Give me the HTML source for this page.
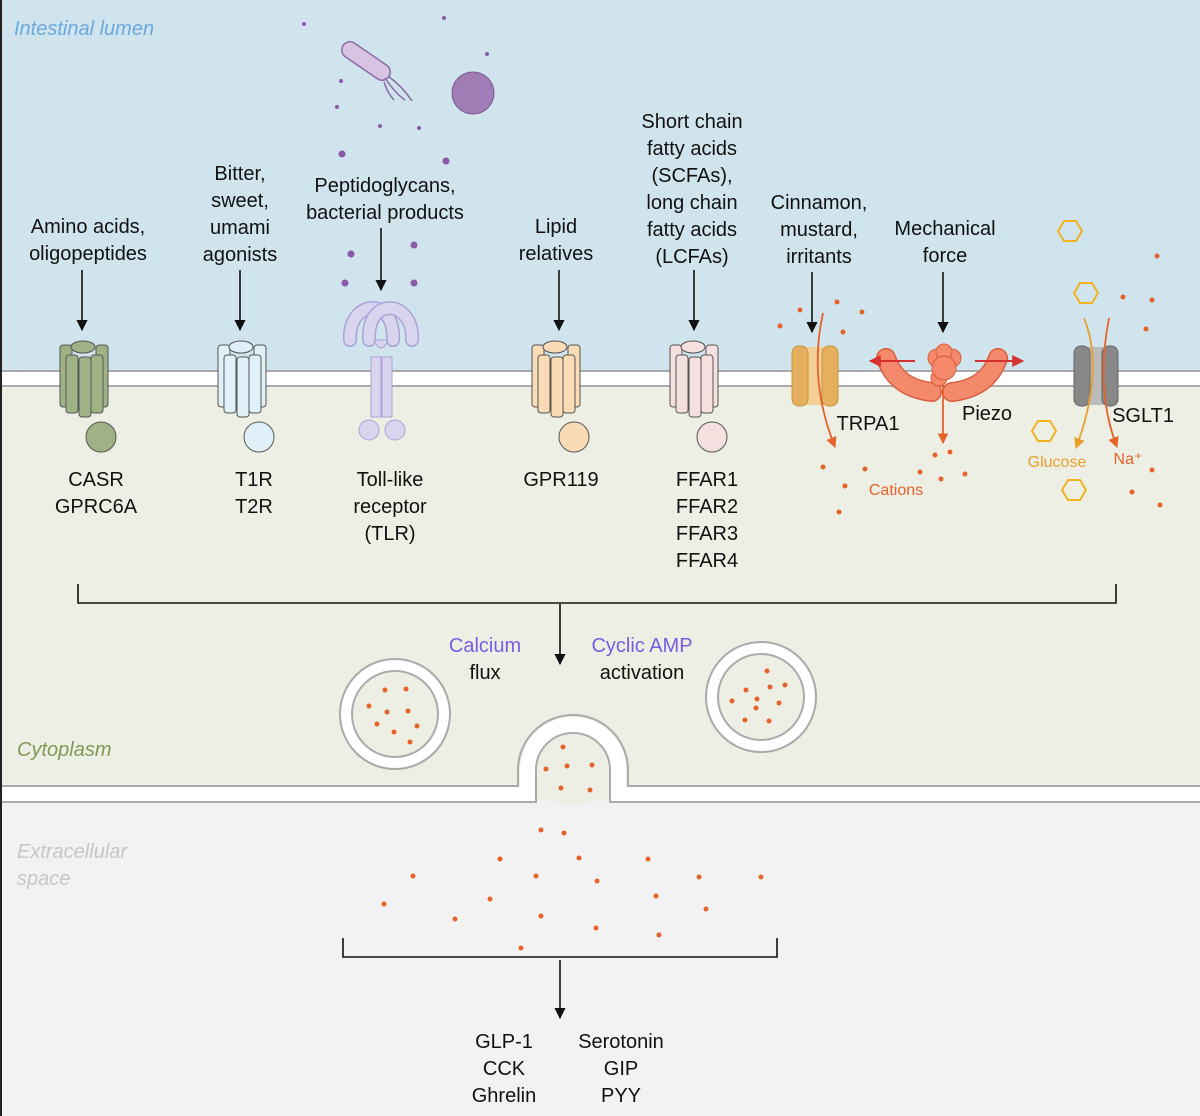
<!DOCTYPE html>
<html><head><style>body{margin:0}svg{display:block}text{font-family:"Liberation Sans",sans-serif}</style></head><body>
<svg width="1200" height="1116" viewBox="0 0 1200 1116" xmlns="http://www.w3.org/2000/svg">
<defs><marker id="ah" viewBox="0 0 10 10" refX="9" refY="5" markerWidth="7" markerHeight="7" orient="auto"><path d="M0,0L10,5L0,10z" fill="#111"/></marker>
<marker id="ao" viewBox="0 0 10 10" refX="9" refY="5" markerWidth="6" markerHeight="6" orient="auto"><path d="M0,0L10,5L0,10z" fill="#e5622a"/></marker>
<marker id="ay" viewBox="0 0 10 10" refX="9" refY="5" markerWidth="6" markerHeight="6" orient="auto"><path d="M0,0L10,5L0,10z" fill="#e8a02a"/></marker>
<marker id="ar" viewBox="0 0 10 10" refX="9" refY="5" markerWidth="6" markerHeight="6" orient="auto"><path d="M0,0L10,5L0,10z" fill="#d63030"/></marker></defs>
<rect width="1200" height="1116" fill="#f2f2f2"/>
<rect width="1200" height="372" fill="#cfe4ec"/>
<rect y="386" width="1200" height="400" fill="#edefe4"/>
<rect y="372" width="1200" height="14" fill="#fff"/>
<line x1="0" y1="371" x2="1200" y2="371" stroke="#aaa" stroke-width="2"/>
<line x1="0" y1="386" x2="1200" y2="386" stroke="#aaa" stroke-width="2"/>
<path d="M0,786 H520 V770 A53,53 0 0 1 626,770 V786 H1200 V802 H610 V770 A37,37 0 0 0 536,770 V802 H0Z" fill="#fff"/>
<path d="M0,786 H518 V770 A55,55 0 0 1 628,770 V786 H1200" fill="none" stroke="#aaa" stroke-width="2"/>
<path d="M0,802 H536 V770 A37,37 0 0 1 610,770 V802 H1200" fill="none" stroke="#aaa" stroke-width="2"/>
<rect x="537" y="768" width="72" height="33" fill="#edefe4"/>
<circle cx="573" cy="770" r="36" fill="#edefe4"/>
<rect x="0" y="0" width="2" height="1116" fill="#222"/>
<text x="14" y="35" font-size="20" font-style="italic" fill="#6aa9de">Intestinal lumen</text>
<text x="17" y="756" font-size="20" font-style="italic" fill="#7f9a55">Cytoplasm</text>
<text x="17" y="858" font-size="20" font-style="italic" fill="#c6c6c6">Extracellular</text>
<text x="17" y="885" font-size="20" font-style="italic" fill="#c6c6c6">space</text>
<g font-size="20" fill="#111" text-anchor="middle">
<text x="88" y="233">Amino acids,</text><text x="88" y="260">oligopeptides</text>
<text x="240" y="180">Bitter,</text><text x="240" y="207">sweet,</text><text x="240" y="234">umami</text><text x="240" y="261">agonists</text>
<text x="385" y="192">Peptidoglycans,</text><text x="385" y="219">bacterial products</text>
<text x="556" y="233">Lipid</text><text x="556" y="260">relatives</text>
<text x="692" y="128">Short chain</text><text x="692" y="155">fatty acids</text><text x="692" y="182">(SCFAs),</text><text x="692" y="209">long chain</text><text x="692" y="236">fatty acids</text><text x="692" y="263">(LCFAs)</text>
<text x="819" y="209">Cinnamon,</text><text x="819" y="236">mustard,</text><text x="819" y="263">irritants</text>
<text x="945" y="235">Mechanical</text><text x="945" y="262">force</text>
<text x="96" y="486">CASR</text><text x="96" y="513">GPRC6A</text>
<text x="254" y="486">T1R</text><text x="254" y="513">T2R</text>
<text x="390" y="486">Toll-like</text><text x="390" y="513">receptor</text><text x="390" y="540">(TLR)</text>
<text x="561" y="486">GPR119</text>
<text x="707" y="486">FFAR1</text><text x="707" y="513">FFAR2</text><text x="707" y="540">FFAR3</text><text x="707" y="567">FFAR4</text>
<text x="868" y="430">TRPA1</text><text x="987" y="420">Piezo</text><text x="1143" y="422">SGLT1</text>
<text x="485" y="652" fill="#7a5ce0">Calcium</text><text x="485" y="679">flux</text>
<text x="642" y="652" fill="#7a5ce0">Cyclic AMP</text><text x="642" y="679">activation</text>
<text x="504" y="1048">GLP-1</text><text x="504" y="1075">CCK</text><text x="504" y="1102">Ghrelin</text>
<text x="621" y="1048">Serotonin</text><text x="621" y="1075">GIP</text><text x="621" y="1102">PYY</text>
</g>
<g font-size="16" text-anchor="middle"><text x="896" y="495" fill="#e5622a">Cations</text><text x="1057" y="467" fill="#e8a02a">Glucose</text><text x="1128" y="464" fill="#e5622a">Na⁺</text></g>
<g stroke="#111" stroke-width="1.6" marker-end="url(#ah)">
<line x1="82" y1="270" x2="82" y2="330"/><line x1="240" y1="270" x2="240" y2="330"/><line x1="381" y1="228" x2="381" y2="290"/><line x1="559" y1="270" x2="559" y2="330"/><line x1="694" y1="270" x2="694" y2="330"/><line x1="812" y1="272" x2="812" y2="332"/><line x1="943" y1="272" x2="943" y2="332"/>
<line x1="560" y1="604" x2="560" y2="664"/><line x1="560" y1="960" x2="560" y2="1018"/></g>
<path d="M78,584 V603 H1116 V584" fill="none" stroke="#111" stroke-width="1.6"/>
<path d="M343,938 V957 H777 V938" fill="none" stroke="#111" stroke-width="1.6"/>
<g stroke="#555" stroke-width="1">
<g fill="#9fb286"><rect x="60" y="345" width="12" height="62" rx="3"/><rect x="96" y="345" width="12" height="62" rx="3"/><rect x="66" y="355" width="12" height="58" rx="3"/><rect x="79" y="357" width="12" height="60" rx="3"/><rect x="91" y="355" width="12" height="58" rx="3"/><ellipse cx="83" cy="347" rx="12" ry="6"/><circle cx="101" cy="437" r="15"/></g>
<g fill="#e0f0f8"><rect x="218" y="345" width="12" height="62" rx="3"/><rect x="254" y="345" width="12" height="62" rx="3"/><rect x="224" y="355" width="12" height="58" rx="3"/><rect x="237" y="357" width="12" height="60" rx="3"/><rect x="249" y="355" width="12" height="58" rx="3"/><ellipse cx="241" cy="347" rx="12" ry="6"/><circle cx="259" cy="437" r="15"/></g>
<g fill="#f9dcb6"><rect x="532" y="345" width="12" height="62" rx="3"/><rect x="568" y="345" width="12" height="62" rx="3"/><rect x="538" y="355" width="12" height="58" rx="3"/><rect x="551" y="357" width="12" height="60" rx="3"/><rect x="563" y="355" width="12" height="58" rx="3"/><ellipse cx="555" cy="347" rx="12" ry="6"/><circle cx="574" cy="437" r="15"/></g>
<g fill="#f3e0df"><rect x="670" y="345" width="12" height="62" rx="3"/><rect x="706" y="345" width="12" height="62" rx="3"/><rect x="676" y="355" width="12" height="58" rx="3"/><rect x="689" y="357" width="12" height="60" rx="3"/><rect x="701" y="355" width="12" height="58" rx="3"/><ellipse cx="693" cy="347" rx="12" ry="6"/><circle cx="712" cy="437" r="15"/></g>
</g>
<!-- TLR -->
<g fill="none" stroke-linecap="round">
<path d="M350,340 C348,300 395,295 393,340" stroke="#a9a3d6" stroke-width="14"/>
<path d="M350,340 C348,300 395,295 393,340" stroke="#d9d5ee" stroke-width="11"/>
<path d="M412,340 C414,300 367,295 369,340" stroke="#a9a3d6" stroke-width="14"/>
<path d="M412,340 C414,300 367,295 369,340" stroke="#d9d5ee" stroke-width="11"/>
</g>
<g fill="#d9d5ee" stroke="#a9a3d6"><path d="M374,340 Q381,356 388,340 Z"/><rect x="371" y="357" width="10" height="60"/><rect x="382" y="357" width="10" height="60"/><circle cx="369" cy="430" r="10"/><circle cx="395" cy="430" r="10"/></g>
<!-- TRPA1 -->
<rect x="793" y="347" width="44" height="58" fill="#f2cf94"/>
<rect x="792" y="346" width="16" height="60" rx="7" fill="#e4b060" stroke="#c9963a"/><rect x="822" y="346" width="16" height="60" rx="7" fill="#e4b060" stroke="#c9963a"/>
<path d="M823,313 Q808,380 835,447" fill="none" stroke="#e5622a" stroke-width="1.8" marker-end="url(#ao)"/>
<!-- Piezo -->
<g stroke-linecap="round" fill="none">
<path d="M886,358 Q896,388 932,392" stroke="#d95a3e" stroke-width="20"/>
<path d="M886,358 Q896,388 932,392" stroke="#f48a6b" stroke-width="17"/>
<path d="M998,358 Q988,388 952,392" stroke="#d95a3e" stroke-width="20"/>
<path d="M998,358 Q988,388 952,392" stroke="#f48a6b" stroke-width="17"/>
</g>
<g fill="#f48a6b" stroke="#d95a3e"><circle cx="937" cy="358" r="9"/><circle cx="952" cy="358" r="9"/><circle cx="944" cy="352" r="8"/><circle cx="939" cy="378" r="8"/><circle cx="944" cy="368" r="12"/></g>
<line x1="915" y1="361" x2="870" y2="361" stroke="#d63030" stroke-width="2" marker-end="url(#ar)"/>
<line x1="975" y1="361" x2="1023" y2="361" stroke="#d63030" stroke-width="2" marker-end="url(#ar)"/>
<line x1="943" y1="385" x2="943" y2="443" stroke="#e5622a" stroke-width="1.8" marker-end="url(#ao)"/>
<!-- SGLT1 -->
<rect x="1075" y="347" width="42" height="58" fill="#bbb"/>
<rect x="1074" y="346" width="16" height="60" rx="7" fill="#888" stroke="#666"/><rect x="1102" y="346" width="16" height="60" rx="7" fill="#888" stroke="#666"/>
<path d="M1084,318 Q1105,370 1076,448" fill="none" stroke="#e8a02a" stroke-width="1.8" marker-end="url(#ay)"/>
<path d="M1109,318 Q1095,390 1117,447" fill="none" stroke="#e5622a" stroke-width="1.8" marker-end="url(#ao)"/>
<g fill="none" stroke="#f1b21f" stroke-width="2"><polygon points="1058,231 1064,221 1076,221 1082,231 1076,241 1064,241"/><polygon points="1074,293 1080,283 1092,283 1098,293 1092,303 1080,303"/><polygon points="1032,431 1038,421 1050,421 1056,431 1050,441 1038,441"/><polygon points="1062,490 1068,480 1080,480 1086,490 1080,500 1068,500"/></g>
<!-- bacteria -->
<path d="M350,50 L382,72" stroke="#8a6aa8" stroke-width="18" stroke-linecap="round"/><path d="M350,50 L382,72" stroke="#d8c3e3" stroke-width="15" stroke-linecap="round"/>
<path d="M385,78 q10,15 20,22 M388,76 q14,10 24,25 M384,82 q4,12 10,18" fill="none" stroke="#8a6aa8" stroke-width="1.5"/>
<circle cx="473" cy="93" r="21" fill="#a27cb5" stroke="#7e5892"/>
<g fill="#8a5aa8"><circle cx="304" cy="24" r="2"/><circle cx="444" cy="18" r="2"/><circle cx="487" cy="54" r="2"/><circle cx="341" cy="81" r="2"/><circle cx="337" cy="107" r="2"/><circle cx="380" cy="126" r="2"/><circle cx="419" cy="128" r="2"/><circle cx="342" cy="154" r="3.5"/><circle cx="446" cy="161" r="3.5"/><circle cx="351" cy="254" r="3.5"/><circle cx="414" cy="245" r="3.5"/><circle cx="345" cy="283" r="3.5"/><circle cx="414" cy="283" r="3.5"/></g>
<circle cx="395" cy="714" r="55" fill="#fff" stroke="#aaa" stroke-width="2"/><circle cx="395" cy="714" r="43" fill="#edefe4" stroke="#aaa" stroke-width="2"/>
<circle cx="761" cy="697" r="55" fill="#fff" stroke="#aaa" stroke-width="2"/><circle cx="761" cy="697" r="43" fill="#edefe4" stroke="#aaa" stroke-width="2"/>
<g fill="#e5622a">
<circle cx="385" cy="690" r="2.5"/><circle cx="406" cy="689" r="2.5"/><circle cx="369" cy="706" r="2.5"/><circle cx="387" cy="712" r="2.5"/><circle cx="408" cy="711" r="2.5"/><circle cx="377" cy="724" r="2.5"/><circle cx="394" cy="732" r="2.5"/><circle cx="417" cy="726" r="2.5"/><circle cx="410" cy="742" r="2.5"/>
<circle cx="767" cy="671" r="2.5"/><circle cx="746" cy="690" r="2.5"/><circle cx="770" cy="687" r="2.5"/><circle cx="785" cy="685" r="2.5"/><circle cx="757" cy="699" r="2.5"/><circle cx="732" cy="701" r="2.5"/><circle cx="756" cy="708" r="2.5"/><circle cx="779" cy="703" r="2.5"/><circle cx="745" cy="720" r="2.5"/><circle cx="769" cy="721" r="2.5"/>
<circle cx="563" cy="747" r="2.5"/><circle cx="546" cy="769" r="2.5"/><circle cx="567" cy="766" r="2.5"/><circle cx="592" cy="765" r="2.5"/><circle cx="561" cy="788" r="2.5"/><circle cx="590" cy="790" r="2.5"/>
<circle cx="541" cy="830" r="2.5"/><circle cx="564" cy="833" r="2.5"/><circle cx="500" cy="859" r="2.5"/><circle cx="579" cy="858" r="2.5"/><circle cx="648" cy="859" r="2.5"/><circle cx="413" cy="876" r="2.5"/><circle cx="536" cy="876" r="2.5"/><circle cx="597" cy="881" r="2.5"/><circle cx="699" cy="877" r="2.5"/><circle cx="761" cy="877" r="2.5"/><circle cx="384" cy="904" r="2.5"/><circle cx="490" cy="899" r="2.5"/><circle cx="656" cy="896" r="2.5"/><circle cx="706" cy="909" r="2.5"/><circle cx="455" cy="919" r="2.5"/><circle cx="541" cy="916" r="2.5"/><circle cx="596" cy="928" r="2.5"/><circle cx="659" cy="935" r="2.5"/><circle cx="521" cy="948" r="2.5"/>
<circle cx="780" cy="326" r="2.5"/><circle cx="800" cy="310" r="2.5"/><circle cx="837" cy="302" r="2.5"/><circle cx="862" cy="312" r="2.5"/><circle cx="843" cy="332" r="2.5"/>
<circle cx="823" cy="467" r="2.5"/><circle cx="865" cy="469" r="2.5"/><circle cx="845" cy="486" r="2.5"/><circle cx="839" cy="512" r="2.5"/><circle cx="935" cy="455" r="2.5"/><circle cx="950" cy="452" r="2.5"/><circle cx="920" cy="472" r="2.5"/><circle cx="941" cy="479" r="2.5"/><circle cx="965" cy="474" r="2.5"/>
<circle cx="1157" cy="256" r="2.5"/><circle cx="1123" cy="297" r="2.5"/><circle cx="1152" cy="300" r="2.5"/><circle cx="1146" cy="329" r="2.5"/><circle cx="1152" cy="470" r="2.5"/><circle cx="1132" cy="492" r="2.5"/><circle cx="1160" cy="505" r="2.5"/>
</g>
</svg>
</body></html>
